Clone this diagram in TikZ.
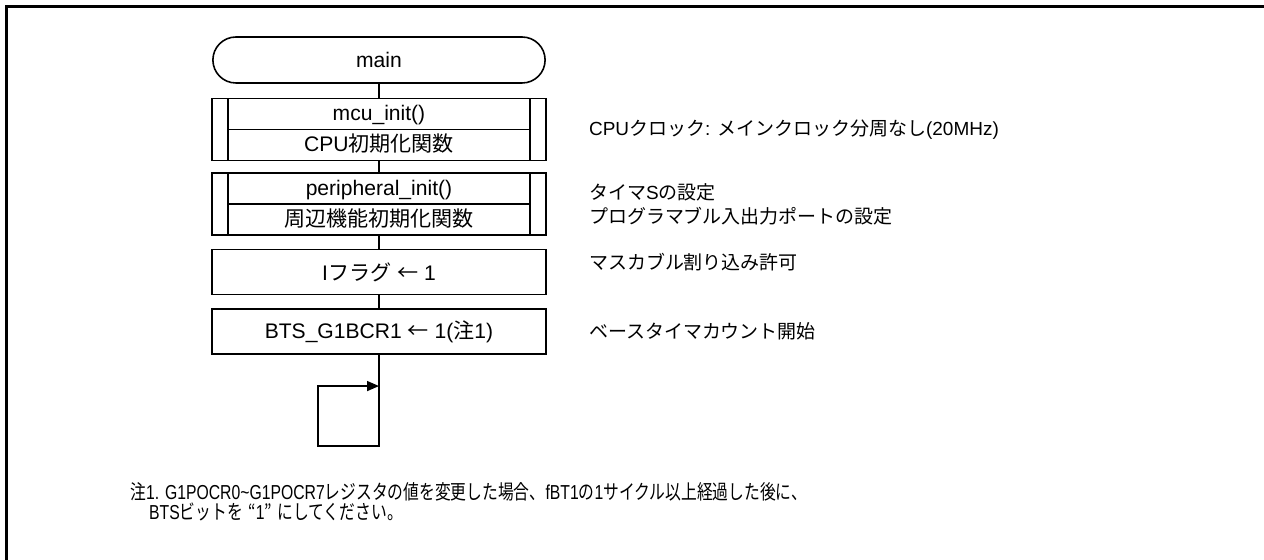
\documentclass[tikz,border=0pt]{standalone}
\usepackage{fontspec}
\setmainfont{Liberation Sans}
\newfontfamily\jpfont{Noto Sans CJK JP}
\newcommand\jp[1]{{\jpfont #1}}
\usetikzlibrary{positioning, arrows.meta, shapes.misc}
\tikzset{
  frame/.style = {line width=1.7pt},
  term/.style  = {rounded rectangle, draw, line width=0.9pt,
                  minimum width=6.88cm, minimum height=0.92cm,
                  font=\fontsize{12}{14}\selectfont},
  subr/.style  = {rectangle, draw, line width=0.9pt, align=center,
                  minimum width=6.68cm, minimum height=1.24cm, inner sep=0pt,
                  font=\fontsize{12}{17.6}\selectfont,
                  path picture={
                    \draw ([xshift=0.32cm]path picture bounding box.north west)
                       -- ([xshift=0.32cm]path picture bounding box.south west);
                    \draw ([xshift=-0.32cm]path picture bounding box.north east)
                       -- ([xshift=-0.32cm]path picture bounding box.south east);
                    \draw ([xshift=0.32cm]path picture bounding box.west)
                       -- ([xshift=-0.32cm]path picture bounding box.east);}},
  proc/.style  = {rectangle, draw, line width=0.9pt,
                  minimum width=6.68cm, minimum height=0.9cm,
                  font=\fontsize{12}{14}\selectfont},
  cmt/.style   = {anchor=west, align=left, inner sep=0pt,
                  font=\fontsize{10.8}{13.6}\selectfont},
  link/.style  = {line width=0.9pt},
}
\begin{document}
\begin{tikzpicture}[x=0.02cm, y=-0.02cm, node distance=0.26cm and 0.84cm]
\useasboundingbox (0,0) rectangle (1264,560);

% outer frame (only top and left edges show)
\draw [frame] (6.5,560) -- (6.5,6.5) -- (1264,6.5);

% flow
\node (main) [term] at (379,60) {main};
\node (mcu) [subr, below=0.28cm of main] {mcu\_init()\\CPU\jp{初期化関数}};
\node (per) [subr, below=0.22cm of mcu] {peripheral\_init()\\\jp{周辺機能初期化関数}};
\node (iflg) [proc, below=of per] {I\jp{フラグ} \jp{←} 1};
\node (bts) [proc, below=of iflg] {BTS\_G1BCR1 \jp{←} 1(\jp{注}1)};

\draw [link] (main) -- (mcu);
\draw [link] (mcu) -- (per);
\draw [link] (per) -- (iflg);
\draw [link] (iflg) -- (bts);

% endless loop
\coordinate (lb) at ([yshift=-1.82cm]bts.south);
\coordinate (lc) at ([xshift=-1.22cm]lb);
\coordinate (lt) at ([yshift=-0.62cm]bts.south);
\draw [link, -{Triangle[length=2.4mm, width=2mm]}] (bts.south) -- (lb) -- (lc) |- (lt);

% comments
\node (c1) [cmt, right=of mcu] {CPU\jp{クロック}: \jp{メインクロック分周なし}(20MHz)};
\node (c2) [cmt, right=of per] {\jp{タイマ}S\jp{の設定}\\\jp{プログラマブル入出力ポートの設定}};
\node (c3) [cmt, right=of iflg, yshift=0.2cm] {\jp{マスカブル割り込み許可}};
\node (c4) [cmt, right=of bts] {\jp{ベースタイマカウント開始}};

% note
\node (note) [cmt, align=left, xscale=0.78, transform shape,
  font=\fontsize{11.5}{11.3}\selectfont] at (130,502)
  {\jp{注}1. G1POCR0\textasciitilde G1POCR7\jp{レジスタの値を変更した場合、}fBT1\jp{の}1\jp{サイクル以上経過した後に、}\\
   \hspace*{1.2em}BTS\jp{ビットを\hspace{0.35em}“}1\jp{”\hspace{0.35em}にしてください。}};

\end{tikzpicture}
\end{document}
